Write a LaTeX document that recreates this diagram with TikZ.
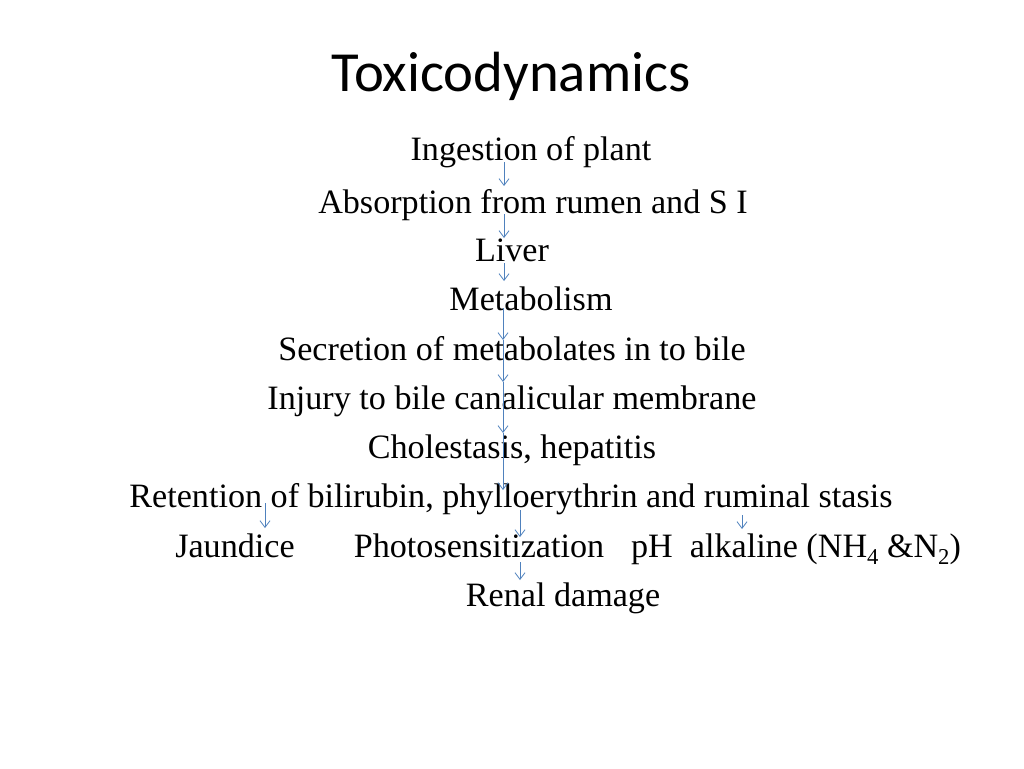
\documentclass[tikz,border=0pt]{standalone}
\usepackage{fontspec}
\setmainfont{Liberation Serif}
\newfontfamily\titlefont{Carlito}
\usetikzlibrary{arrows.meta}
\definecolor{flowblue}{RGB}{79,129,189}
\newcommand{\lowsub}[1]{\raisebox{-0.22em}{\fontsize{17}{17}\selectfont #1}}
\tikzset{
  txt/.style={inner sep=0pt,anchor=base,font=\fontsize{25.6}{28}\selectfont},
  flow/.style={draw=flowblue,line width=0.6pt,-{Straight Barb[length=5pt,width=7.5pt]}}
}
\begin{document}
\begin{tikzpicture}[x=0.75pt,y=-0.75pt]

\useasboundingbox (0,0) rectangle (1024,768);

\node[inner sep=0pt,anchor=base,font=\titlefont\fontsize{42.5}{46}\selectfont] (title) at (511,91) {Toxicodynamics};

\node[txt] (ingest) at (531,160) {Ingestion of plant};
\node[txt] (absorb) at (533,213) {Absorption from rumen and S I};
\node[txt] (liver) at (512,261) {Liver};
\node[txt] (metab) at (531,310) {Metabolism};
\node[txt] (secret) at (512,360) {Secretion of metabolates in to bile};
\node[txt] (injury) at (512,409) {Injury to bile canalicular membrane};
\node[txt] (chole) at (512,458) {Cholestasis, hepatitis};
\node[txt] (retain) at (511,507) {Retention of bilirubin, phylloerythrin and ruminal stasis};

\node[txt] (jaund) at (235,557) {Jaundice};
\node[txt] (photo) at (479,557) {Photosensitization};
\node[txt] (ph) at (796,557) {pH\ \ alkaline (NH\lowsub{4} \&N\lowsub{2})};
\node[txt] (renal) at (563,606) {Renal damage};

% arrows down the chain
\coordinate (a1) at (504,162);  \coordinate (b1) at (504,186);
\coordinate (a2) at (504,214);  \coordinate (b2) at (504,238);
\coordinate (a3) at (504,263);  \coordinate (b3) at (504,281);
\coordinate (a4) at (503,308);  \coordinate (b4) at (503,340);
\coordinate (b5) at (503,382);
\coordinate (b6) at (503,433);
\coordinate (b7) at (503,490);

\draw[flow] (a1) -- (b1);
\draw[flow] (a2) -- (b2);
\draw[flow] (a3) -- (b3);
\draw[flow] (a4) -- (b4);
\draw[flow] (b4) -- (b5);
\draw[flow] (b5) -- (b6);
\draw[flow] (b6) -- (b7);

% branches
\coordinate (c1) at (265,503);  \coordinate (d1) at (265,528);
\coordinate (c2) at (520,510);  \coordinate (d2) at (520,537);
\coordinate (c3) at (742,515);  \coordinate (d3) at (742,529);
\coordinate (c4) at (520,562);  \coordinate (d4) at (520,580);

\draw[flow] (c1) -- (d1);
\draw[flow] (c2) -- (d2);
\draw[flow] (c3) -- (d3);
\draw[flow] (c4) -- (d4);

\end{tikzpicture}
\end{document}
